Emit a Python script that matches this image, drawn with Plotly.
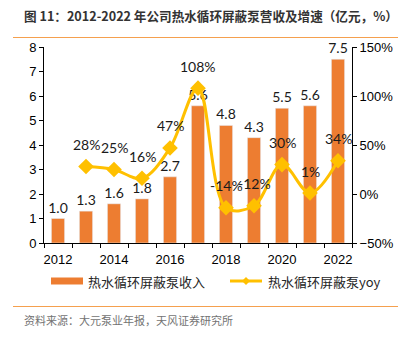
import plotly.graph_objects as go

years = [2012, 2013, 2014, 2015, 2016, 2017, 2018, 2019, 2020, 2021, 2022]
revenue = [1.0, 1.3, 1.6, 1.8, 2.7, 5.6, 4.8, 4.3, 5.5, 5.6, 7.5]
yoy_years = [2013, 2014, 2015, 2016, 2017, 2018, 2019, 2020, 2021, 2022]
yoy = [0.28, 0.25, 0.16, 0.47, 1.08, -0.14, -0.12, 0.30, 0.01, 0.34]
label_years = [2012, 2014, 2016, 2018, 2020, 2022]

title = "图 11：2012-2022 年公司热水循环屏蔽泵营收及增速（亿元，%）"
source = "资料来源：大元泵业年报，天风证券研究所"
name_bar = "热水循环屏蔽泵收入"
name_line = "热水循环屏蔽泵yoy"

BAR = "#ED7D31"
LINE = "#FFC000"
RULE = "#F5A04E"
CJK = "Noto Sans CJK SC"
NUM = "Lato"
TICK = "Liberation Sans"

fig = go.Figure()
fig.add_trace(go.Bar(
    x=years, y=revenue, name=name_bar, marker_color=BAR, width=0.47,
    texttemplate="%{y:.1f}", textposition="outside", constraintext="none",
    textfont=dict(family=NUM, size=14, color="#1a1a1a"), cliponaxis=False,
    showlegend=False,
))
fig.add_trace(go.Scatter(
    x=yoy_years, y=yoy, name=name_line, yaxis="y2", mode="lines+markers",
    line=dict(color=LINE, width=3, shape="spline", smoothing=1.0),
    marker=dict(symbol="diamond", size=12, color=LINE),
    cliponaxis=False, showlegend=False,
))

annotations = []
for xv, yv in zip(yoy_years, yoy):
    annotations.append(dict(
        x=xv, y=yv, xref="x", yref="y2", text=f"{round(yv*100):d}%",
        showarrow=False, yshift=22, font=dict(family=NUM, size=14, color="#1a1a1a"),
    ))

W, H = 407, 342
L, R, T, B = 44, 55, 47, 99

def px(x):
    return (x - L) / (W - L - R)

def py(y):
    return 1 - (y - T) / (H - T - B)

annotations += [
    dict(x=px(22), y=py(15), xref="paper", yref="paper", text=f"<b>{title}</b>", showarrow=False,
         xanchor="left", yanchor="middle", font=dict(family=CJK, size=12.6, color="#333333")),
    dict(x=px(22), y=py(320), xref="paper", yref="paper", text=source, showarrow=False,
         xanchor="left", yanchor="middle", font=dict(family=CJK, size=11, color="#737373")),
    dict(x=px(86), y=py(281), xref="paper", yref="paper", text=name_bar, showarrow=False,
         xanchor="left", yanchor="middle", font=dict(family=CJK, size=13, color="#262626")),
    dict(x=px(266), y=py(281), xref="paper", yref="paper", text=name_line, showarrow=False,
         xanchor="left", yanchor="middle", font=dict(family=CJK, size=13, color="#262626")),
]

shapes = [
    dict(type="line", xref="paper", yref="paper", x0=px(13), x1=px(398), y0=py(37.5), y1=py(37.5),
         line=dict(color=RULE, width=1.2)),
    dict(type="line", xref="paper", yref="paper", x0=px(13), x1=px(398), y0=py(306.5), y1=py(306.5),
         line=dict(color=RULE, width=1.2)),
    dict(type="rect", xref="paper", yref="paper", x0=px(51), x1=px(83), y0=py(284.5), y1=py(277.5),
         fillcolor=BAR, line=dict(width=0)),
    dict(type="line", xref="paper", yref="paper", x0=px(230), x1=px(262), y0=py(281), y1=py(281),
         line=dict(color=LINE, width=3)),
    dict(type="path", xref="paper", yref="paper",
         path=f"M {px(246)},{py(277)} L {px(250)},{py(281)} L {px(246)},{py(285)} L {px(242)},{py(281)} Z",
         fillcolor=LINE, line=dict(width=0)),
]

fig.update_layout(
    width=W, height=H, margin=dict(l=L, r=R, t=T, b=B),
    paper_bgcolor="white", plot_bgcolor="white",
    annotations=annotations, shapes=shapes, showlegend=False,
    xaxis=dict(
        range=[2011.5, 2022.5], tickvals=label_years, ticks="outside", ticklen=4,
        tickcolor="rgba(0,0,0,0)", showline=True, linecolor="#000000", linewidth=1,
        showgrid=False, zeroline=False, tickfont=dict(family=TICK, size=13, color="#000000"),
        minor=dict(tickvals=[y - 0.5 for y in years] + [years[-1] + 0.5], ticks="outside",
                   ticklen=4, tickcolor="#000000", showgrid=False),
    ),
    yaxis=dict(
        range=[0, 8], dtick=1, ticks="outside", ticklen=4, tickcolor="#000000",
        showline=True, linecolor="#000000", linewidth=1, showgrid=False, zeroline=False,
        tickfont=dict(family=TICK, size=13, color="#000000"),
    ),
    yaxis2=dict(
        overlaying="y", side="right", range=[-0.5, 1.5], dtick=0.5, tickformat=".0%",
        ticks="outside", ticklen=4, tickcolor="#000000", showline=True,
        linecolor="#000000", linewidth=1, showgrid=False, zeroline=False,
        tickfont=dict(family=TICK, size=13, color="#000000"),
    ),
)

fig.write_html("out.html")
